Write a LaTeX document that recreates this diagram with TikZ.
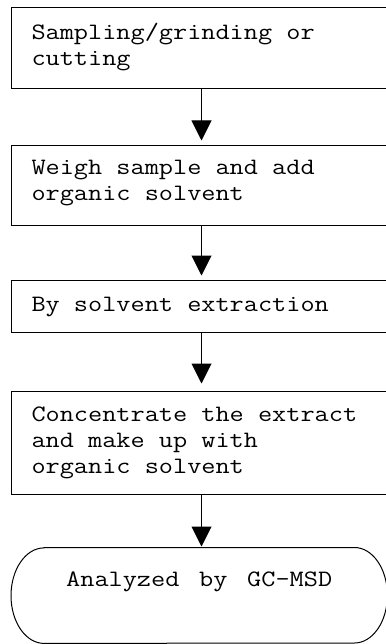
\documentclass[tikz,border=0pt]{standalone}
\usepackage{fontspec}
\newfontfamily\flowfont[FakeStretch=1.17]{Latin Modern Mono}
\usetikzlibrary{arrows.meta}
\begin{document}
\begin{tikzpicture}[x=1pt,y=1pt,
  stepbox/.style={draw, line width=1pt, anchor=north west, inner xsep=20pt, inner ysep=0pt,
    text width=340pt, align=left, font=\fontsize{23.5}{26}\selectfont\flowfont,
    execute at begin node={\spaceskip=0pt\xspaceskip=0pt\relax}},
  termbox/.style={anchor=north west, inner xsep=18pt, inner ysep=0pt,
    text width=340pt, align=center, font=\fontsize{23.5}{26}\selectfont\flowfont,
    execute at begin node={\spaceskip=0pt\xspaceskip=0pt\relax}},
  flow/.style={line width=1pt, -{Triangle[width=20pt,length=20pt]}}]
\useasboundingbox (0,0) rectangle (385,-644);
\node[stepbox, text height=32pt, text depth=49pt] (b1) at (11,-7) {Sampling/grinding or\\cutting};
\node[stepbox, text height=28.5pt, text depth=50.5pt] (b2) at (11,-145.5) {Weigh sample and add\\organic solvent};
\node[stepbox, text height=31pt, text depth=21.5pt] (b3) at (11,-279.5) {By solvent extraction};
\node[stepbox, text height=30pt, text depth=73.5pt] (b4) at (11,-390.5) {Concentrate the extract\\and make up with\\organic solvent};
\node[termbox, text height=38.5pt, text depth=57pt] (t) at (11,-547.5) {Analyzed by GC-MSD};
\draw[line width=1pt] ([xshift=33pt]t.north west) -- ([xshift=-33pt]t.north east)
  arc[start angle=90, end angle=-90, x radius=33pt, y radius=47.75pt]
  -- ([xshift=33pt]t.south west)
  arc[start angle=270, end angle=90, x radius=33pt, y radius=47.75pt] -- cycle;
\draw[flow, shorten >=5pt] (b1.south) -- (b2.north);
\draw[flow, shorten >=4pt] (b2.south) -- (b3.north);
\draw[flow, shorten >=7pt] (b3.south) -- (b4.north);
\draw[flow, shorten >=1pt] (b4.south) -- (b4.south |- t.north);
\end{tikzpicture}
\end{document}
